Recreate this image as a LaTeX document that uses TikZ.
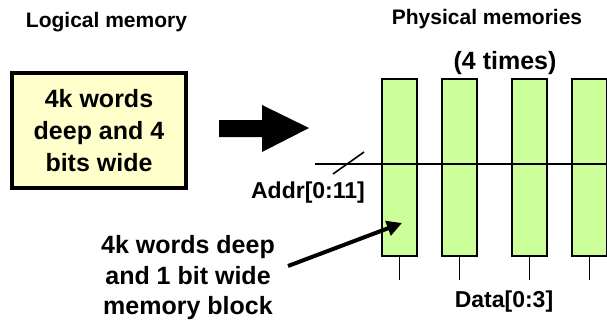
\documentclass[tikz,border=0pt]{standalone}
\usepackage{fontspec}
\setmainfont{Liberation Sans}
\usetikzlibrary{arrows.meta, positioning}
\definecolor{logicfill}{HTML}{FFFFCC}
\definecolor{physfill}{HTML}{CCFF99}
\tikzset{x=1pt, y=-1pt, % so coordinates can be read off the picture in pixels
title/.style={font=\fontsize{21}{25}\selectfont\bfseries}, % headings over the two halves
big/.style={font=\fontsize{25}{32}\selectfont\bfseries, align=center}, % large bold text
sig/.style={font=\fontsize{23}{27}\selectfont\bfseries}, % bus labels
logic/.style={big, draw, line width=3.5pt, fill=logicfill, minimum width=174pt, minimum height=115pt}, % the logical memory
mem/.style={draw, line width=1.2pt, fill=physfill, minimum width=35pt, minimum height=177pt, inner sep=0pt}, % one physical block
bus/.style={line width=2pt}, % address bus
pin/.style={line width=0.8pt}, % data output
ptr/.style={line width=4pt, -{Triangle[length=15pt, width=15pt]}}, % pointer to a block
}

\begin{document}
\begin{tikzpicture}
    \useasboundingbox (0,0) rectangle (607,322);
    \node[title] (lt) at (106.5,22) {Logical memory};
    \node[title] (pt) at (487,19) {Physical memories};
    \node[big] (times) at (505,63) {(4 times)};
    \node[logic] (lm) at (99,130.5) {4k words\\deep and 4\\bits wide};
    % the big arrow between the two halves
    \fill (219,120) -- (262,120) -- (262,105) -- (309,128) -- (262,152) -- (262,137) -- (219,137) -- cycle;
    \node[mem] (m1) at (399.5,167.5) {};
    \node[mem] (m2) at (459.5,167.5) {};
    \node[mem] (m3) at (529.5,167.5) {};
    \node[mem] (m4) at (589.5,167.5) {};
    \coordinate (a0) at (315,164);
    \coordinate (a1) at (607,164);
    \coordinate (s0) at (333,174);
    \coordinate (s1) at (364,152);
    \draw[bus] (a0) -- (a1);
    \draw[bus, line width=1.6pt] (s0) -- (s1);
    \node[sig] (addr) at (308,193) {Addr[0:11]};
    \foreach \i in {1,...,4} {
        \coordinate (d\i) at ([yshift=-23pt]m\i.south);
        \draw[pin] (m\i.south) -- (d\i);
    }
    \node[sig] (data) at (504,302) {Data[0:3]};
    \node[big, font=\fontsize{25}{30.5}\selectfont\bfseries] (blk) at (188,278) {4k words deep\\and 1 bit wide\\memory block};
    \coordinate (ptail) at (288,266);
    \coordinate (ptip) at (402,223);
    \draw[ptr] (ptail) -- (ptip);
  \end{tikzpicture}
\end{document}
